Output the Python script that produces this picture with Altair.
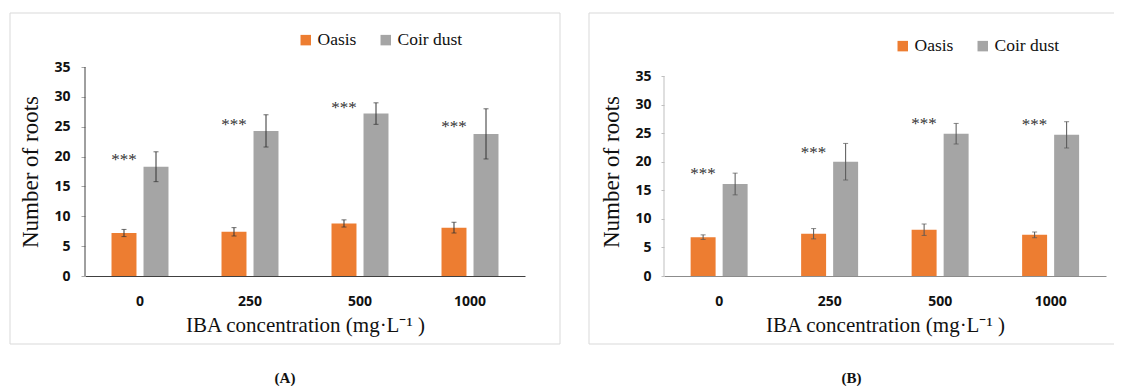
import altair as alt
import pandas as pd

conc = ["0", "250", "500", "1000"]
series = ["Oasis", "Coir dust"]
colors = ["#ED7D31", "#A5A5A5"]

A_oasis = [7.2, 7.4, 8.8, 8.1]
A_oasis_err = [0.6, 0.7, 0.6, 0.9]
A_coir = [18.3, 24.3, 27.2, 23.8]
A_coir_err = [2.5, 2.7, 1.8, 4.2]
A_star = [19.4, 25.3, 28.1, 24.9]

B_oasis = [6.8, 7.4, 8.1, 7.2]
B_oasis_err = [0.4, 0.9, 1.0, 0.5]
B_coir = [16.1, 20.0, 24.9, 24.7]
B_coir_err = [1.9, 3.2, 1.8, 2.3]
B_star = [17.8, 21.5, 26.6, 26.4]

stars = "***"
y_ticks = [0, 5, 10, 15, 20, 25, 30, 35]
y_axis_top = 35

SERIF = "Liberation Serif, Times New Roman, serif"
SANS = "Open Sans, sans-serif"


def make_df(oasis, oasis_err, coir, coir_err):
    rows = []
    for i, c in enumerate(conc):
        rows.append({"conc": c, "series": series[0], "value": oasis[i],
                     "lo": oasis[i] - oasis_err[i], "hi": oasis[i] + oasis_err[i]})
        rows.append({"conc": c, "series": series[1], "value": coir[i],
                     "lo": coir[i] - coir_err[i], "hi": coir[i] + coir_err[i]})
    return pd.DataFrame(rows)


def panel(oasis, oasis_err, coir, coir_err, star_y, width, height, y_max, label,
          y_domain_color, y_tick_color, y_tick_size, y_label_pad, x_domain_color,
          err_color, legend_x, legend_y, frame, right_side):
    df = make_df(oasis, oasis_err, coir, coir_err)
    sdf = pd.DataFrame({"conc": conc, "series": [series[0]] * len(conc),
                        "y": star_y, "t": [stars] * len(conc)})
    one = pd.DataFrame({"a": [0]})

    x_axis = alt.Axis(title="IBA concentration (mg·L⁻¹ )", labelAngle=0,
                      ticks=False, domainColor=x_domain_color, domainWidth=1,
                      labelFont=SANS, labelFontWeight="bold", labelFontSize=14,
                      labelColor="#111111", labelPadding=18,
                      titleFont=SERIF, titleFontSize=21, titleFontWeight="normal",
                      titleColor="#111111", titlePadding=6)
    x_scale = alt.Scale(paddingInner=0.482, paddingOuter=0.241)
    y_axis = alt.Axis(title="Number of roots", values=y_ticks, tickCount=12, grid=False,
                      domain=False, tickColor=y_tick_color, tickSize=y_tick_size,
                      labelFont=SANS, labelFontWeight="bold", labelFontSize=14,
                      labelColor="#111111", labelPadding=y_label_pad,
                      labelOverlap=False,
                      titleFont=SERIF, titleFontSize=23, titleFontWeight="normal",
                      titleColor="#111111", titlePadding=11)
    y_scale = alt.Scale(domain=[0, y_max], nice=False, zero=True)

    def X():
        return alt.X("conc:N", sort=conc, scale=x_scale, axis=x_axis)

    def XO():
        return alt.XOffset("series:N", sort=series,
                           scale=alt.Scale(domain=series, paddingInner=0.22, paddingOuter=0))

    def Y(field):
        return alt.Y(field, scale=y_scale, axis=y_axis)

    bars = alt.Chart(df).mark_bar().encode(
        x=X(), xOffset=XO(), y=Y("value:Q"),
        color=alt.Color("series:N", sort=series,
                        scale=alt.Scale(domain=series, range=colors),
                        legend=alt.Legend(title=None, orient="none", direction="horizontal",
                                          legendX=legend_x, legendY=legend_y,
                                          symbolType="square", symbolSize=110,
                                          symbolStrokeWidth=0, labelFont=SERIF,
                                          labelFontSize=17.5, labelColor="#111111",
                                          labelOffset=3, columnPadding=20)),
    )
    y_line = alt.Chart(one).mark_rule(color=y_domain_color, strokeWidth=1).encode(
        x=alt.value(0), y=alt.datum(0, scale=y_scale), y2=alt.datum(y_axis_top))
    err = alt.Chart(df).mark_rule(color=err_color, strokeWidth=1).encode(
        x=X(), xOffset=XO(), y=Y("lo:Q"), y2="hi:Q")
    cap_lo = alt.Chart(df).mark_tick(color=err_color, thickness=1, size=5).encode(
        x=X(), xOffset=XO(), y=Y("lo:Q"))
    cap_hi = alt.Chart(df).mark_tick(color=err_color, thickness=1, size=5).encode(
        x=X(), xOffset=XO(), y=Y("hi:Q"))
    star_txt = alt.Chart(sdf).mark_text(font=SERIF, fontSize=17, color="#333333",
                                        baseline="middle").encode(
        x=X(), xOffset=XO(), y=Y("y:Q"), text="t:N")

    fx1, fx2, fy1, fy2 = frame
    fc = "#D9D9D9"
    frame_layers = [
        alt.Chart(one).mark_rule(color=fc, strokeWidth=1).encode(
            x=alt.value(fx1), x2=alt.value(fx2), y=alt.value(fy1)),
        alt.Chart(one).mark_rule(color=fc, strokeWidth=1).encode(
            x=alt.value(fx1), x2=alt.value(fx2), y=alt.value(fy2)),
        alt.Chart(one).mark_rule(color=fc, strokeWidth=1).encode(
            x=alt.value(fx1), y=alt.value(fy1), y2=alt.value(fy2)),
    ]
    if right_side:
        frame_layers.append(
            alt.Chart(one).mark_rule(color=fc, strokeWidth=1).encode(
                x=alt.value(fx2), y=alt.value(fy1), y2=alt.value(fy2)))

    return alt.layer(*frame_layers, bars, y_line, err, cap_lo, cap_hi, star_txt).properties(
        width=width, height=height,
        title=alt.TitleParams(label, orient="bottom", anchor="middle", frame="bounds",
                              font=SERIF, fontSize=15, fontWeight="bold",
                              color="#111111", offset=26),
    )


pA = panel(A_oasis, A_oasis_err, A_coir, A_coir_err, A_star, 440, 209, 35, "(A)",
           "#404040", "#A6A6A6", 4, 11, "#404040", "#333333",
           212, -36, (-75, 475, -54, 277), True)
pB = panel(B_oasis, B_oasis_err, B_coir, B_coir_err, B_star, 442, 209, 36.575, "(B)",
           "#BFBFBF", "#BFBFBF", 3, 10, "#8C8C8C", "#555555",
           230, -30, (-75, 450, -54, 277), False)

chart = alt.hconcat(pA, pB, spacing=27).resolve_scale(
    color="independent", y="independent", x="independent"
).resolve_legend(color="independent").properties(
    padding={"left": 1, "top": 4, "right": 0, "bottom": 0}
).configure_view(strokeWidth=0)

chart.save("out.html", embed_options={"renderer": "svg", "actions": False})
